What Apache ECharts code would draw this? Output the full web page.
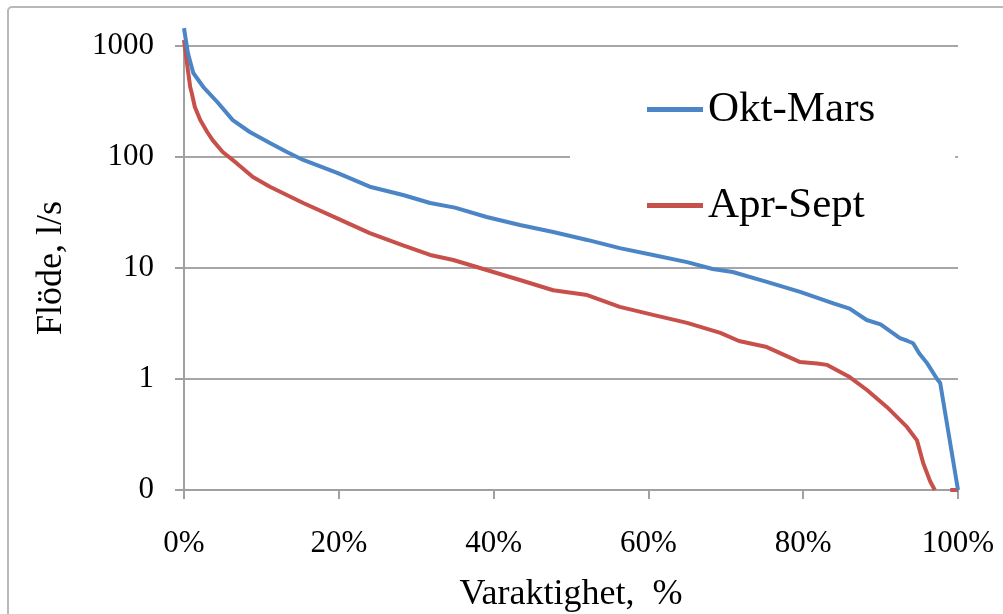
<!DOCTYPE html>
<html>
<head>
<meta charset="utf-8">
<script src="https://cdn.jsdelivr.net/npm/echarts@6/dist/echarts.min.js"></script>
<style>
html,body{margin:0;padding:0;background:#fff;}
#chart{width:1003px;height:614px;}
</style>
</head>
<body>
<div id="chart"></div>
<script>
// Data
const seriesNames = ['Okt-Mars', 'Apr-Sept'];
const oktPct = [0, 0.5, 1.2, 2.5, 4.3, 6.3, 8.5, 11.1, 13.3, 15.4, 19.8, 24, 28.3, 31.8, 35, 39.1, 43.4, 47.7, 52.1, 56.3, 60.6, 65, 68.3, 70.9, 75.3, 79.6, 83.9, 86, 88.2, 90, 92.5, 93.5, 94.2, 95, 96, 97.3, 97.7, 100];
const oktVal = [1450, 866, 571, 427, 313, 215, 168, 134, 111, 94, 72, 54, 45.5, 38.5, 35, 28.8, 24.4, 21.1, 17.9, 15.1, 13.1, 11.3, 9.8, 9.2, 7.5, 6.1, 4.8, 4.3, 3.4, 3.1, 2.34, 2.2, 2.1, 1.7, 1.39, 1.0, 0.92, 0.1];
const aprPct = [0, 0.5, 0.8, 1, 1.4, 2.1, 3, 3.7, 5, 6.8, 8.9, 11.1, 15.4, 19.8, 24, 28.3, 31.8, 34.8, 39.1, 43.4, 47.7, 52.1, 56.3, 60.6, 65, 69.3, 71.7, 75.3, 79.6, 81.8, 83.1, 86, 88.2, 90.8, 93.4, 94.7, 95.5, 96.4, 97, 98, 99, 100];
const aprVal = [1130, 608, 427, 377, 282, 215, 168, 142, 111, 88, 66, 54, 38.5, 28, 20.6, 16, 13.1, 11.8, 9.6, 7.8, 6.3, 5.7, 4.46, 3.78, 3.2, 2.6, 2.2, 1.94, 1.42, 1.38, 1.34, 1.04, 0.8, 0.56, 0.37, 0.28, 0.175, 0.12, 0.1, null, 0.1, 0.1];
const xTicks = [0, 20, 40, 60, 80, 100];
const yTicks = [0.1, 1, 10, 100, 1000];

const FONT = 'Liberation Serif';
const colors = ['#4b85c6', '#c8504b'];

function pairs(xs, ys) { return xs.map((x, i) => [x, ys[i]]); }

const chart = echarts.init(document.getElementById('chart'), null, {renderer: 'canvas'});
chart.setOption({
  animation: false,
  backgroundColor: '#ffffff',
  color: colors,
  graphic: [{
    type: 'rect',
    shape: {x: 8, y: 7, width: 1200, height: 800, r: 4},
    style: {fill: 'none', stroke: '#b9b9b9', lineWidth: 2},
    z: 0
  }],
  grid: {left: 184, right: 45, top: 46, bottom: 124, containLabel: false, outerBoundsMode: 'none'},
  legend: {
    orient: 'vertical',
    left: 570,
    top: 60,
    padding: [28, 80, 0, 77],
    backgroundColor: '#ffffff',
    itemGap: 53,
    itemWidth: 56,
    itemHeight: 5,
    icon: 'rect',
    textStyle: {fontFamily: FONT, fontSize: 43, color: '#000'},
    data: seriesNames
  },
  xAxis: {
    type: 'value',
    min: 0, max: 100, interval: 20,
    axisLine: {show: true, lineStyle: {color: '#a0a0a0', width: 2}},
    axisTick: {show: true, length: 9, lineStyle: {color: '#a0a0a0', width: 2}},
    splitLine: {show: false},
    axisLabel: {fontFamily: FONT, fontSize: 31, color: '#000', margin: 38,
      formatter: v => xTicks.includes(Math.round(v)) ? Math.round(v) + '%' : ''},
    name: 'Varaktighet,  %',
    nameLocation: 'middle',
    nameGap: 87,
    nameTextStyle: {fontFamily: FONT, fontSize: 36, color: '#000'}
  },
  yAxis: {
    type: 'log',
    logBase: 10,
    min: yTicks[0], max: yTicks[yTicks.length - 1],
    axisLine: {show: true, lineStyle: {color: '#a0a0a0', width: 2}},
    axisTick: {show: true, length: 9, lineStyle: {color: '#a0a0a0', width: 2}},
    splitLine: {show: true, lineStyle: {color: '#a6a6a6', width: 2}},
    axisLabel: {fontFamily: FONT, fontSize: 31, color: '#000', margin: 30, padding: [8, 0, 0, 0],
      formatter: v => v < 1 ? '0' : String(Math.round(v))},
    name: 'Flöde, l/s',
    nameLocation: 'middle',
    nameGap: 114,
    nameTextStyle: {fontFamily: FONT, fontSize: 36, color: '#000'}
  },
  series: [
    {
      name: seriesNames[0], type: 'line', data: pairs(oktPct, oktVal),
      showSymbol: false, symbol: 'none', clip: false, connectNulls: false,
      lineStyle: {width: 4, color: colors[0]}, z: 3
    },
    {
      name: seriesNames[1], type: 'line', data: pairs(aprPct, aprVal),
      showSymbol: false, symbol: 'none', clip: false, connectNulls: false,
      lineStyle: {width: 4, color: colors[1]}, z: 2
    }
  ]
});
</script>
</body>
</html>
